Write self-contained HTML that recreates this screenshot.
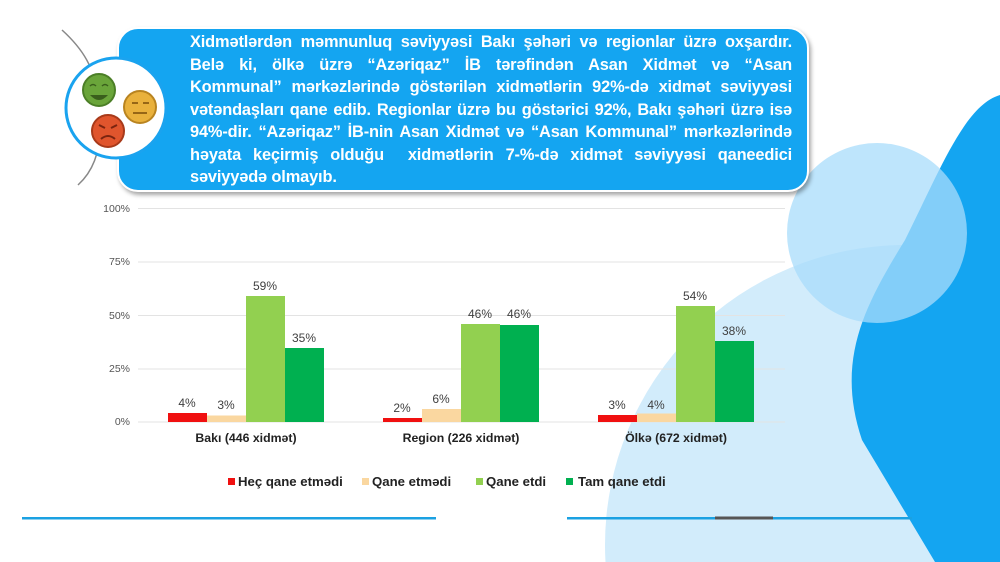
<!DOCTYPE html>
<html><head><meta charset="utf-8"><style>
html,body{margin:0;padding:0;overflow:hidden}
body{width:1000px;height:562px;position:relative;overflow:hidden;background:#fff;font-family:"Liberation Sans",Arial,sans-serif}
.txt{position:absolute;left:190px;top:31px;width:602px;color:#fff;font-weight:bold;font-size:16.4px;line-height:22.5px;letter-spacing:-0.15px}
.txt div{text-align:justify;text-align-last:justify;white-space:nowrap;height:22.5px}
.txt div.l{text-align-last:left}
svg{position:absolute;left:0;top:0}
</style></head><body>
<svg width="1000" height="562">
<circle cx="905" cy="545" r="300" fill="#d2ecfb"/>
<path d="M1000,95 C965,105 940,170 905,240 C865,305 835,360 862,440 L935,562 L1000,562 Z" fill="#14a5f1"/>
<circle cx="877" cy="233" r="90" fill="#a8dcfb" opacity="0.75"/>
<path d="M62,30 Q95,60 95,90" stroke="#888" stroke-width="1.5" fill="none"/>
<path d="M100,128 Q100,165 78,185" stroke="#888" stroke-width="1.5" fill="none"/>
<rect x="118" y="28" width="690" height="163" rx="20" fill="#14a5f1" stroke="#fff" stroke-width="2" style="filter:drop-shadow(2px 3px 2px rgba(0,0,0,0.35))"/>
<circle cx="116" cy="108" r="50" fill="#fff" stroke="#1aa3ef" stroke-width="3"/>
<circle cx="99" cy="90" r="16" fill="#6aa53a" stroke="#4c7f27" stroke-width="2"/>
<path d="M90,95 Q99,105 108,95 Z" fill="#3a5f1c"/>
<path d="M90,86 q3,-3 6,0 M102,86 q3,-3 6,0" stroke="#3a5f1c" stroke-width="1.5" fill="none"/>
<circle cx="140" cy="107" r="16" fill="#e9b13c" stroke="#b98420" stroke-width="2"/>
<path d="M132,103 h6 M143,103 h6 M133,113 h14" stroke="#8a5c10" stroke-width="1.8"/>
<circle cx="108" cy="131" r="16" fill="#e0552d" stroke="#a83a1a" stroke-width="2"/>
<path d="M99,125 l6,3 M117,125 l-6,3 M101,139 q7,-6 14,0" stroke="#7a2410" stroke-width="2" fill="none"/>
<g stroke="#e3e3e3" stroke-width="1">
<line x1="138" y1="208.5" x2="785" y2="208.5"/>
<line x1="138" y1="262" x2="785" y2="262"/>
<line x1="138" y1="315.5" x2="785" y2="315.5"/>
<line x1="138" y1="369" x2="785" y2="369"/>
<line x1="138" y1="422" x2="785" y2="422"/>
</g>
<g font-size="10.5" fill="#555" text-anchor="end">
<text x="130" y="212">100%</text><text x="130" y="265">75%</text><text x="130" y="319">50%</text><text x="130" y="372">25%</text><text x="130" y="425">0%</text>
</g>
<g>
<rect x="168" y="413" width="39" height="9" fill="#f01010"/>
<rect x="207" y="415.5" width="39" height="6.5" fill="#fad7a0"/>
<rect x="246" y="296" width="39" height="126" fill="#92d050"/>
<rect x="285" y="348" width="39" height="74" fill="#00b050"/>
<rect x="383" y="418" width="39" height="4" fill="#f01010"/>
<rect x="422" y="409" width="39" height="13" fill="#fad7a0"/>
<rect x="461" y="324" width="39" height="98" fill="#92d050"/>
<rect x="500" y="325" width="39" height="97" fill="#00b050"/>
<rect x="598" y="415" width="39" height="7" fill="#f01010"/>
<rect x="637" y="413.5" width="39" height="8.5" fill="#fad7a0"/>
<rect x="676" y="306" width="39" height="116" fill="#92d050"/>
<rect x="715" y="341" width="39" height="81" fill="#00b050"/>
</g>
<g font-size="12" fill="#404040" text-anchor="middle">
<text x="187" y="407">4%</text><text x="226" y="409">3%</text><text x="265" y="290">59%</text><text x="304" y="342">35%</text>
<text x="402" y="412">2%</text><text x="441" y="403">6%</text><text x="480" y="318">46%</text><text x="519" y="318">46%</text>
<text x="617" y="409">3%</text><text x="656" y="409">4%</text><text x="695" y="300">54%</text><text x="734" y="335">38%</text>
</g>
<g font-size="12.3" font-weight="bold" fill="#222" text-anchor="middle">
<text x="246" y="442">Bakı (446 xidmət)</text><text x="461" y="442">Region (226 xidmət)</text><text x="676" y="442">Ölkə (672 xidmət)</text>
</g>
<g font-size="13.2" font-weight="bold" fill="#222">
<rect x="228" y="478" width="7" height="7" fill="#f01010"/><text x="238" y="486">Heç qane etmədi</text>
<rect x="362" y="478" width="7" height="7" fill="#fad7a0"/><text x="372" y="486">Qane etmədi</text>
<rect x="476" y="478" width="7" height="7" fill="#92d050"/><text x="486" y="486">Qane etdi</text>
<rect x="566" y="478" width="7" height="7" fill="#00b050"/><text x="578" y="486">Tam qane etdi</text>
</g>
<rect x="22" y="517" width="414" height="2.5" fill="#1ba1e2"/>
<rect x="567" y="517" width="345" height="2.5" fill="#1ba1e2"/>
<rect x="715" y="516.5" width="58" height="3" fill="#555"/>
</svg>
<div class="txt">
<div>Xidmətlərdən məmnunluq səviyyəsi Bakı şəhəri və regionlar üzrə oxşardır.</div>
<div>Belə ki, ölkə üzrə “Azəriqaz” İB tərəfindən Asan Xidmət və “Asan</div>
<div>Kommunal” mərkəzlərində göstərilən xidmətlərin 92%-də xidmət səviyyəsi</div>
<div>vətəndaşları qane edib. Regionlar üzrə bu göstərici 92%, Bakı şəhəri üzrə isə</div>
<div>94%-dir. “Azəriqaz” İB-nin Asan Xidmət və “Asan Kommunal” mərkəzlərində</div>
<div>həyata keçirmiş olduğu &nbsp;xidmətlərin 7-%-də xidmət səviyyəsi qaneedici</div>
<div class="l">səviyyədə olmayıb.</div>
</div>
</body></html>
